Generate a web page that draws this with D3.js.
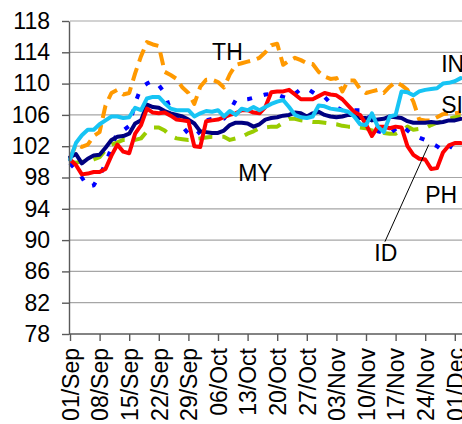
<!DOCTYPE html>
<html>
<head>
<meta charset="utf-8">
<script src="https://cdn.jsdelivr.net/npm/d3@7"></script>
<style>
  body { margin: 0; background: #fff; }
  svg { display: block; font-family: "Liberation Sans", Arial, sans-serif; }
  .grid line { stroke: #a6a6a6; stroke-width: 1.2; }
  .axis path, .axis line { stroke: #5a5a5a; stroke-width: 1.4; }
  .axis text { font-size: 23px; fill: #000; }
  .series { fill: none; stroke-width: 4; stroke-linejoin: round; }
  .lbl { font-size: 23px; fill: #000; }
</style>
</head>
<body>
<div id="chart"></div>
<script>
// business days, 01/Sep to 02/Dec
var startDate = new Date(2008, 8, 1),
    endDate = new Date(2008, 11, 3);

var yTicks = [78, 82, 86, 90, 94, 98, 102, 106, 110, 114, 118];

var thValues = [100.4, 102.2, 101.9, 102.2, 103.3, 103.8, 107.2, 108.8, 109.2, 108.6,
  108.8, 111.3, 113.5, 115.3, 115.0, 114.8, 111.5, 111.1, 110.6, 109.5,
  108.8, 107.4, 109.6, 110.5, 110.5, 110.2, 109.5, 111.2, 112.4, 112.6,
  112.8, 113.0, 113.3, 114.0, 114.9, 115.1, 112.4, 112.9, 113.3, 113.0,
  112.6, 112.5, 111.5, 110.9, 110.6, 110.7, 109.0, 110.4, 110.4, 109.3,
  108.8, 109.0, 109.2, 108.8, 109.6, 110.2, 109.8, 109.2, 107.7, 105.4,
  105.3, 105.3, 105.7, 106.1, 106.2, 106.2, 106.3];

var inValues = [100.3, 102.4, 103.4, 104.1, 104.1, 104.8, 105.3, 105.8, 105.8, 105.6,
  105.7, 106.9, 106.6, 108.1, 108.3, 108.3, 107.5, 106.8, 106.6, 106.6,
  106.6, 105.8, 106.2, 106.5, 106.4, 106.6, 105.8, 106.5, 106.0, 106.8,
  106.6, 107.0, 106.6, 107.0, 107.4, 107.7, 107.9, 107.0, 106.0, 105.7,
  105.6, 105.8, 107.2, 107.1, 106.8, 106.7, 106.6, 106.4, 105.8, 104.8,
  104.7, 106.2, 104.5, 103.8, 105.8, 106.0, 109.0, 108.9, 108.5, 109.0,
  109.2, 109.3, 109.4, 110.0, 110.1, 110.3, 110.7];

var siValues = [100.6, 101.0, 99.8, 100.4, 100.8, 100.9, 101.8, 102.8, 103.2, 103.3,
  103.6, 104.9, 105.3, 107.3, 107.0, 106.9, 106.5, 106.2, 106.0, 105.8,
  105.4, 104.9, 103.9, 103.8, 103.7, 103.7, 104.0, 104.7, 105.0, 105.0,
  104.9, 104.5, 104.8, 105.4, 105.6, 105.7, 105.9, 106.0, 106.3, 106.2,
  105.8, 106.2, 106.4, 106.0, 105.8, 105.7, 105.8, 106.0, 106.0, 105.6,
  105.6, 105.3, 105.4, 105.5, 105.8, 105.7, 105.6, 105.2, 105.0, 105.0,
  105.0, 105.1, 105.0, 105.1, 105.3, 105.3, 105.5];

var myValues = [100.0, 99.9, 100.0, 100.0, 100.3, 100.6, 101.5, 102.2, 102.5, 102.8,
  102.8, 102.8, 103.0, 103.9, 104.4, 104.4, 104.0, 103.3, 103.0, 102.9,
  102.8, 102.9, 103.0, 103.1, 103.2, 103.2, 103.2, 102.8, 103.0, 103.2,
  103.6, 103.9, 104.3, 104.4, 104.5, 104.5, 105.0, 105.5, 105.5, 105.3,
  105.2, 105.1, 105.1, 105.0, 104.9, 104.8, 104.6, 104.5, 104.5, 104.4,
  104.3, 104.0, 103.9, 103.7, 103.6, 103.6, 104.0, 104.5, 104.1, 104.2,
  104.3, 104.7, 105.0, 105.2, 105.5, 105.7, 105.8];

var idValues = [100.3, 99.6, 98.4, 98.5, 98.7, 98.7, 99.1, 100.8, 102.2, 101.3,
  101.1, 103.6, 104.7, 106.8, 106.3, 106.2, 106.3, 105.9, 105.4, 105.3,
  105.2, 102.0, 101.9, 105.2, 105.3, 105.4, 105.7, 106.0, 106.2, 106.6,
  106.6, 106.3, 106.2, 107.0, 108.9, 109.0, 109.0, 109.2, 108.6, 108.0,
  108.0, 108.0, 108.4, 108.8, 108.6, 108.5, 108.0, 107.2, 106.4, 106.0,
  104.8, 103.3, 104.5, 104.5, 104.3, 104.5, 104.4, 102.0, 100.9, 100.4,
  100.3, 99.1, 99.2, 101.2, 102.1, 102.4, 102.4];

var phValues = [99.8, 99.0, 98.0, 96.8, 97.0, 98.2, 99.8, 101.8, 103.8, 104.0,
  104.6, 107.5, 109.5, 110.0, 110.4, 109.8, 108.8, 106.5, 105.8, 104.5,
  103.6, 103.2, 103.9, 105.3, 105.5, 105.5, 105.5, 106.5, 107.9, 107.9,
  108.0, 108.2, 108.4, 108.6, 108.7, 108.6, 108.3, 108.1, 108.7, 109.3,
  109.4, 108.9, 108.4, 108.3, 107.5, 107.0, 106.6, 106.6, 106.6, 106.6,
  106.6, 105.2, 103.9, 103.7, 103.6, 104.2, 104.7, 104.0, 103.4, 103.1,
  102.8, 102.4, 102.0, 101.4, 101.6, 102.8, 103.0];

var series = [
  { name: "MY", values: myValues, color: "#99cc00", dash: "14,10" },
  { name: "TH", values: thValues, color: "#ff9900", dash: "13,7" },
  { name: "PH", values: phValues, color: "#0000ff", dash: "5,12" },
  { name: "SI", values: siValues, color: "#000080", dash: null },
  { name: "ID", values: idValues, color: "#ff0000", dash: null },
  { name: "IN", values: inValues, color: "#17c4f4", dash: null }
];

// label positions: business-day index and value
var labels = [
  { text: "TH", i: 24, v: 113.0 },
  { text: "MY", i: 28.4, v: 97.6 },
  { text: "IN", i: 62.7, v: 111.5 },
  { text: "SI", i: 62.7, v: 106.2 },
  { text: "PH", i: 60, v: 94.7 },
  { text: "ID", i: 51.4, v: 87.3 }
];
var idLeader = { from: { i: 53.2, v: 89.8 }, to: { i: 60.6, v: 102.2 } };

var W = 462, H = 424;
var margin = { top: 21, left: 70, bottom: 90 };
var plotBottom = H - margin.bottom;

var dates = d3.timeDays(startDate, endDate).filter(function (d) {
  return d.getDay() !== 0 && d.getDay() !== 6;
});
var mondays = dates.filter(function (d) { return d.getDay() === 1; });

var x = d3.scalePoint().domain(dates).range([margin.left, margin.left + 66 * 5.92]);
var xi = d3.scaleLinear().domain([0, dates.length - 1]).range(x.range());
var y = d3.scaleLinear().domain([78, 118]).range([plotBottom, margin.top]);

var svg = d3.select("#chart").append("svg")
  .attr("width", W)
  .attr("height", H);

// grid lines
svg.append("g")
  .attr("class", "grid")
  .selectAll("line")
  .data(yTicks.slice(1))
  .enter().append("line")
  .attr("x1", margin.left)
  .attr("x2", W)
  .attr("y1", function (d) { return y(d); })
  .attr("y2", function (d) { return y(d); });

// lines
var line = d3.line()
  .x(function (d, i) { return x(dates[i]); })
  .y(function (d) { return y(d); });

svg.selectAll(".series")
  .data(series)
  .enter().append("path")
  .attr("class", "series")
  .attr("stroke", function (d) { return d.color; })
  .attr("stroke-dasharray", function (d) { return d.dash; })
  .attr("stroke-linecap", function (d) { return d.dash ? "butt" : "round"; })
  .attr("d", function (d) { return line(d.values); });

// axes
svg.append("g")
  .attr("class", "axis")
  .attr("transform", "translate(" + (margin.left - 1) + ",0)")
  .call(d3.axisLeft(y).tickValues(yTicks).tickSize(7).tickSizeOuter(0).tickPadding(12));

var xAxis = svg.append("g")
  .attr("class", "axis")
  .attr("transform", "translate(0," + plotBottom + ")")
  .call(d3.axisBottom(x).tickValues(mondays).tickFormat(d3.timeFormat("%d/%b"))
    .tickSize(7).tickSizeOuter(0));
xAxis.select(".domain").attr("d", "M" + (margin.left - 1) + ",0H" + W);
xAxis.selectAll("text")
  .attr("transform", "rotate(-90)")
  .attr("text-anchor", "end")
  .attr("x", -14)
  .attr("y", 0)
  .attr("dy", "0.36em");

// series labels
svg.selectAll(".lbl")
  .data(labels)
  .enter().append("text")
  .attr("class", "lbl")
  .attr("x", function (d) { return xi(d.i); })
  .attr("y", function (d) { return y(d.v); })
  .text(function (d) { return d.text; });

svg.append("line")
  .attr("x1", xi(idLeader.from.i))
  .attr("y1", y(idLeader.from.v))
  .attr("x2", xi(idLeader.to.i))
  .attr("y2", y(idLeader.to.v))
  .attr("stroke", "#000")
  .attr("stroke-width", 1);
</script>
</body>
</html>
